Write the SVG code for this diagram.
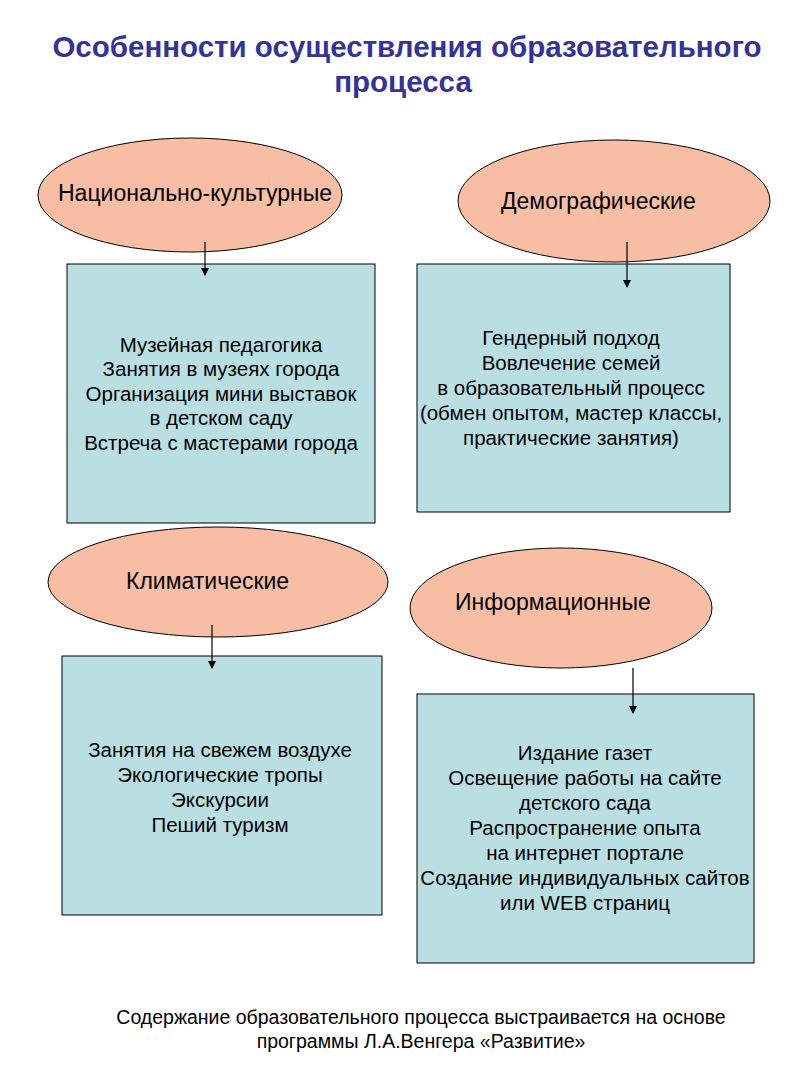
<svg xmlns="http://www.w3.org/2000/svg" width="800" height="1067" viewBox="0 0 800 1067">
<style>
.e{fill:#f8bea3;stroke:#000;stroke-width:1}
.b{fill:#badfe3;stroke:#000;stroke-width:1}
text{font-family:"Liberation Sans",Arial,sans-serif;fill:#000}
.t{font-size:20.5px;text-anchor:middle}
.h{font-size:23px}
.ti{font-size:29.5px;font-weight:bold;fill:#333399;text-anchor:middle}
.f{font-size:19.5px;text-anchor:middle}
.c line{stroke:#000;stroke-width:1.2;marker-end:url(#a)}
</style>
<defs><marker id="a" markerWidth="8" markerHeight="8" refX="7" refY="4" orient="auto" markerUnits="userSpaceOnUse"><path d="M0,0 L8,4 L0,8 z" fill="#000"/></marker></defs>
<rect width="800" height="1067" fill="#fff"/>
<g id="title"><text class="ti" x="407" y="57">Особенности осуществления образовательного</text><text class="ti" x="403" y="92">процесса</text></g>
<g id="n1"><ellipse class="e" cx="190" cy="195" rx="152" ry="57"/><text class="h" x="58" y="201">Национально-культурные</text></g>
<g id="n2"><ellipse class="e" cx="614" cy="201" rx="156" ry="61"/><text class="h" x="501" y="209">Демографические</text></g>
<g id="n3"><ellipse class="e" cx="218" cy="582" rx="170" ry="55"/><text class="h" x="126" y="589">Климатические</text></g>
<g id="n4"><ellipse class="e" cx="561" cy="608" rx="151" ry="60"/><text class="h" x="455" y="610">Информационные</text></g>
<g id="b1"><rect class="b" x="67" y="264" width="308" height="259"/>
<text class="t" x="221" y="352">Музейная педагогика</text><text class="t" x="221" y="376">Занятия в музеях города</text><text class="t" x="221" y="401">Организация мини выставок</text><text class="t" x="221" y="425">в детском саду</text><text class="t" x="221" y="450">Встреча с мастерами города</text></g>
<g id="b2"><rect class="b" x="417" y="264" width="313" height="248"/>
<text class="t" x="571" y="345">Гендерный подход</text><text class="t" x="571" y="370">Вовлечение семей</text><text class="t" x="571" y="395">в образовательный процесс</text><text class="t" x="571" y="420">(обмен опытом, мастер классы,</text><text class="t" x="571" y="445">практические занятия)</text></g>
<g id="b3"><rect class="b" x="62" y="656" width="320" height="259"/>
<text class="t" x="220" y="757">Занятия на свежем воздухе</text><text class="t" x="220" y="782">Экологические тропы</text><text class="t" x="220" y="807">Экскурсии</text><text class="t" x="220" y="832">Пеший туризм</text></g>
<g id="b4"><rect class="b" x="417" y="694" width="337" height="269"/>
<text class="t" x="585" y="760">Издание газет</text><text class="t" x="585" y="785">Освещение работы на сайте</text><text class="t" x="585" y="810">детского сада</text><text class="t" x="585" y="835">Распространение опыта</text><text class="t" x="585" y="860">на интернет портале</text><text class="t" x="585" y="885">Создание индивидуальных сайтов</text><text class="t" x="585" y="910">или WEB страниц</text></g>
<g class="c" id="connectors"><line x1="205" y1="242" x2="205" y2="275"/><line x1="627" y1="242" x2="627" y2="287"/><line x1="212" y1="625" x2="212" y2="668"/><line x1="633" y1="668" x2="633" y2="713"/></g>
<g id="footer"><text class="f" x="421" y="1024">Содержание образовательного процесса выстраивается на основе</text><text class="f" x="421" y="1048">программы Л.А.Венгера «Развитие»</text></g>
</svg>
